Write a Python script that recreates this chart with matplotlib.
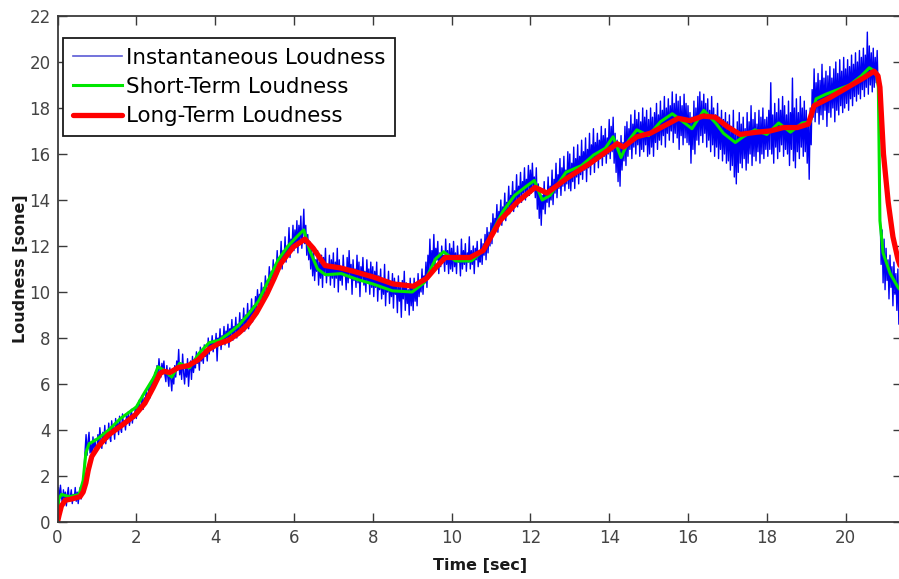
import numpy as np
import matplotlib
matplotlib.use("Agg")
import matplotlib.pyplot as plt

# ---- instantaneous loudness, sampled every 0.025 s (sone), one row block per second ----
inst_dt = 0.025
inst_loudness = [
    # 0 s
    0.4, 1.5, 0.9, 1.6, 1.1, 0.8, 1.4, 1.0, 1.3, 0.7,
    1.2, 1.5, 0.9, 1.1, 1.4, 0.8, 1.2, 1.0, 1.5, 0.9,
    1.3, 0.8, 1.2, 1.5, 1.0, 1.3, 1.6, 2.3, 3.1, 3.8,
    2.9, 3.5, 3.9, 3.0, 3.4, 2.8, 3.7, 3.2, 3.6, 3.1,
    # 1 s
    3.1, 3.8, 3.3, 4.1, 3.6, 3.2, 3.9, 3.5, 4.2, 3.4,
    3.9, 3.6, 4.3, 3.7, 3.5, 4.4, 3.9, 4.1, 3.6, 4.5,
    4.0, 4.3, 3.8, 4.6, 4.1, 3.9, 4.7, 4.2, 4.4, 4.0,
    4.6, 4.3, 4.8, 4.2, 4.5, 4.9, 4.3, 4.7, 4.5, 5.0,
    # 2 s
    4.5, 5.1, 4.7, 5.3, 4.9, 5.0, 5.5, 4.9, 5.4, 5.2,
    5.7, 5.3, 5.6, 5.9, 5.4, 6.1, 5.7, 6.3, 5.9, 6.5,
    6.1, 6.8, 6.4, 7.1, 6.6, 6.3, 6.9, 6.5, 7.0, 6.4,
    6.1, 6.8, 6.3, 5.9, 6.7, 6.2, 5.7, 6.6, 6.0, 6.8,
    # 3 s
    6.3, 7.0, 6.6, 7.5, 6.4, 6.9, 6.2, 7.3, 6.5, 6.0,
    6.8, 6.3, 7.1, 5.9, 6.6, 7.0, 6.2, 7.2, 6.5, 6.9,
    6.7, 7.4, 6.9, 7.2, 6.6, 7.6, 7.0, 7.3, 6.9, 7.7,
    7.2, 7.5, 7.0, 8.0, 7.3, 7.8, 7.5, 8.1, 7.4, 7.9,
    # 4 s
    7.6, 8.2, 7.0, 8.0, 7.7, 8.4, 7.5, 8.1, 7.8, 8.5,
    7.7, 8.3, 8.0, 8.6, 7.6, 8.4, 8.1, 8.8, 7.9, 8.5,
    8.2, 8.9, 8.0, 8.6, 8.3, 9.1, 8.2, 8.8, 8.5, 9.3,
    8.3, 9.0, 8.6, 9.5, 8.4, 9.2, 8.8, 9.7, 8.7, 9.4,
    # 5 s
    9.0, 9.8, 9.2, 10.1, 9.4, 9.9, 9.6, 10.4, 9.5, 10.2,
    9.9, 10.7, 10.0, 10.5, 10.3, 11.1, 10.2, 10.9, 10.6, 11.4,
    10.5, 11.2, 10.9, 11.8, 10.8, 11.5, 11.2, 12.2, 11.0, 11.8,
    11.4, 12.4, 11.3, 12.0, 11.7, 12.8, 11.5, 12.3, 11.9, 12.9,
    # 6 s
    11.8, 12.7, 12.0, 13.1, 11.7, 12.9, 12.2, 13.3, 11.9, 12.6,
    13.6, 12.1, 12.9, 11.6, 12.5, 11.4, 12.2, 11.0, 11.9, 10.7,
    11.7, 10.5, 11.4, 10.9, 11.8, 10.3, 11.3, 10.6, 11.6, 10.2,
    11.5, 10.8, 11.9, 10.4, 11.2, 10.7, 11.6, 10.3, 11.4, 10.6,
    # 7 s
    11.7, 10.2, 11.3, 10.6, 11.9, 10.0, 11.4, 10.5, 11.1, 10.3,
    11.6, 10.7, 11.0, 10.1, 11.5, 10.4, 11.8, 10.6, 11.2, 9.9,
    11.4, 10.5, 11.0, 10.2, 11.6, 10.4, 11.3, 9.8, 11.1, 10.5,
    11.5, 10.3, 10.9, 10.0, 11.4, 10.4, 11.0, 9.9, 11.3, 10.2,
    # 8 s
    11.1, 9.8, 10.9, 10.2, 11.3, 9.6, 10.7, 10.1, 11.0, 9.7,
    10.6, 9.9, 11.2, 9.4, 10.5, 10.0, 10.9, 9.5, 10.4, 9.8,
    10.8, 9.3, 10.6, 9.9, 10.3, 9.1, 10.7, 9.6, 10.2, 8.9,
    10.5, 9.7, 10.9, 9.2, 10.4, 9.5, 10.1, 9.0, 10.6, 9.4,
    # 9 s
    10.3, 9.2, 10.6, 9.6, 10.2, 9.4, 10.8, 9.8, 10.5, 10.0,
    11.0, 9.9, 10.7, 10.4, 11.3, 10.2, 11.6, 10.8, 12.3, 10.9,
    11.8, 11.2, 12.5, 11.0, 11.9, 11.4, 12.2, 10.8, 11.7, 11.1,
    12.0, 11.3, 11.6, 10.9, 12.3, 11.2, 11.8, 10.8, 12.1, 11.0,
    # 10 s
    11.9, 10.9, 12.2, 11.1, 11.7, 10.8, 12.0, 11.3, 11.6, 10.7,
    12.3, 11.0, 11.8, 11.2, 12.1, 10.9, 11.7, 11.3, 12.4, 11.0,
    11.8, 11.2, 12.0, 10.8, 11.9, 11.4, 12.2, 11.1, 11.7, 11.3,
    12.3, 11.2, 12.1, 11.6, 12.5, 11.4, 12.8, 11.7, 12.6, 12.0,
    # 11 s
    13.0, 12.1, 13.4, 12.5, 13.2, 12.8, 13.8, 12.6, 13.5, 13.1,
    14.0, 12.9, 13.7, 13.3, 14.3, 13.1, 13.9, 13.6, 14.6, 13.4,
    14.2, 13.8, 14.8, 13.5, 14.4, 13.9, 15.1, 13.7, 14.6, 14.1,
    15.2, 13.9, 14.8, 14.3, 15.4, 14.0, 14.9, 14.4, 15.5, 14.2,
    # 12 s
    15.3, 14.3, 15.6, 14.5, 15.0, 14.1, 15.4, 13.6, 14.7, 13.2,
    14.5, 12.9, 14.2, 13.6, 14.8, 13.4, 14.4, 13.9, 15.0, 13.7,
    14.6, 14.0, 15.3, 13.8, 14.9, 14.3, 15.6, 14.1, 15.1, 14.5,
    15.8, 14.2, 15.4, 14.6, 15.9, 14.4, 15.3, 14.7, 16.1, 14.5,
    # 13 s
    16.0, 14.4, 15.6, 14.8, 16.3, 14.5, 15.8, 15.0, 16.4, 14.7,
    15.9, 15.1, 16.6, 14.9, 16.1, 15.3, 16.7, 14.8, 16.2, 15.4,
    16.9, 15.1, 16.4, 15.6, 17.1, 15.2, 16.5, 15.7, 16.9, 15.4,
    16.6, 15.8, 17.2, 15.5, 16.8, 15.9, 17.1, 15.6, 16.7, 16.0,
    # 14 s
    17.5, 15.8, 17.2, 16.1, 17.6, 15.6, 16.9, 15.2, 16.6, 14.8,
    16.4, 14.6, 16.8, 15.3, 16.5, 15.7, 17.2, 15.5, 17.4, 15.9,
    17.1, 16.2, 17.7, 15.8, 17.3, 16.3, 17.9, 16.0, 17.5, 16.4,
    17.8, 15.9, 17.4, 16.2, 18.0, 16.1, 17.6, 16.4, 17.9, 15.9,
    # 15 s
    17.5, 16.0, 18.0, 16.3, 17.6, 15.9, 17.8, 16.5, 18.2, 16.2,
    17.7, 16.6, 18.3, 16.4, 17.9, 16.8, 18.5, 16.3, 18.0, 16.9,
    18.4, 16.6, 18.1, 17.0, 18.7, 16.5, 18.2, 16.9, 18.6, 16.7,
    18.3, 16.2, 18.5, 16.8, 18.1, 16.4, 18.6, 16.7, 18.2, 16.5,
    # 16 s
    18.1, 16.4, 17.8, 15.6, 17.6, 16.2, 18.3, 16.0, 18.0, 16.6,
    18.5, 16.4, 18.7, 16.8, 18.3, 16.5, 18.6, 16.9, 18.2, 16.3,
    18.4, 16.6, 17.9, 16.1, 18.5, 16.4, 18.0, 15.9, 17.7, 16.3,
    18.2, 15.8, 17.6, 16.2, 17.9, 15.7, 17.5, 16.0, 17.8, 15.6,
    # 17 s
    17.4, 15.7, 17.7, 15.3, 17.2, 15.5, 17.9, 15.0, 17.0, 14.7,
    17.4, 15.2, 17.8, 15.6, 17.3, 15.4, 17.6, 15.8, 17.1, 15.3,
    17.8, 15.6, 17.4, 16.0, 18.1, 15.5, 17.5, 15.9, 17.8, 15.7,
    17.3, 16.1, 17.9, 15.6, 17.6, 16.0, 18.0, 15.8, 17.5, 16.2,
    # 18 s
    17.6, 15.9, 17.9, 16.2, 19.1, 16.0, 17.7, 15.6, 18.2, 16.3,
    17.8, 15.8, 18.4, 16.1, 17.9, 16.4, 18.5, 15.9, 18.1, 16.2,
    17.7, 16.0, 18.3, 15.5, 17.8, 16.2, 19.3, 15.7, 18.0, 15.4,
    18.4, 16.1, 17.8, 15.8, 18.5, 16.3, 18.0, 15.9, 18.3, 16.1,
    # 19 s
    17.9, 15.6, 17.5, 14.9, 18.0, 16.4, 18.8, 17.6, 19.7, 17.4,
    19.1, 17.8, 19.5, 17.3, 19.2, 17.7, 19.9, 17.5, 19.3, 17.9,
    19.6, 17.2, 19.4, 17.8, 19.8, 17.6, 19.3, 18.0, 19.7, 17.4,
    20.0, 17.9, 19.5, 17.7, 20.1, 18.1, 19.6, 17.8, 20.2, 18.0,
    # 20 s
    19.7, 18.2, 20.1, 17.9, 19.8, 18.4, 20.3, 18.1, 19.9, 18.5,
    20.4, 18.3, 20.0, 18.6, 20.5, 18.4, 20.2, 18.8, 20.6, 18.5,
    20.3, 18.9, 21.3, 18.6, 20.7, 19.0, 20.4, 18.7, 20.6, 18.9,
    20.2, 19.1, 20.5, 18.8, 17.0, 13.5, 11.2, 12.7, 10.4, 12.3,
    # 21 s
    10.1, 11.9, 10.5, 11.4, 9.7, 11.6, 10.2, 11.1, 9.4, 11.3,
    9.9, 10.8, 9.2, 11.0, 8.6, 10.6, 9.5,
]

# ---- short-term loudness ----
short_time = [
    0.0, 0.03, 0.1, 0.3, 0.55, 0.65, 0.72, 0.8, 1.0, 1.3, 1.6, 2.0, 2.2, 2.45, 2.55, 2.7, 2.9,
    3.1, 3.35, 3.6, 3.85, 4.1, 4.35, 4.6, 4.85, 5.1, 5.35, 5.6, 5.85, 6.1, 6.25, 6.4, 6.6,
    6.8, 7.2, 7.6, 8.0, 8.5, 9.0, 9.3, 9.6, 9.8, 10.1, 10.5, 10.8, 11.0, 11.3, 11.6, 11.9,
    12.1, 12.3, 12.5, 12.9, 13.3, 13.6, 13.9, 14.1, 14.3, 14.5, 14.7, 15.0, 15.3, 15.6, 15.8,
    16.1, 16.4, 16.7, 16.9, 17.2, 17.4, 17.7, 18.0, 18.3, 18.6, 18.9, 19.1, 19.25, 19.5, 19.8,
    20.1, 20.4, 20.6, 20.78, 20.83, 20.87, 20.95, 21.13, 21.33, 21.43,
]
short_loudness = [
    0.0, 1.0, 1.2, 1.1, 1.2, 1.8, 3.0, 3.4, 3.6, 4.0, 4.5, 5.0, 5.6, 6.3, 6.75, 6.6, 6.3,
    6.9, 6.7, 7.35, 7.8, 7.9, 8.2, 8.55, 9.05, 9.6, 10.5, 11.4, 12.0, 12.45, 12.7, 11.8, 11.0,
    10.75, 10.8, 10.55, 10.35, 10.05, 10.0, 10.4, 11.45, 11.75, 11.35, 11.35, 11.8, 12.5, 13.5, 14.2, 14.6,
    14.85, 14.0, 14.2, 15.2, 15.5, 15.95, 16.25, 16.75, 15.85, 16.6, 17.05, 16.8, 17.4, 17.75, 17.5,
    17.1, 17.9, 17.35, 16.9, 16.5, 16.75, 17.05, 16.85, 17.35, 16.95, 17.35, 17.4, 18.4, 18.6, 18.8,
    19.0, 19.4, 19.75, 19.55, 18.9, 13.1, 11.7, 10.8, 10.2, 10.0,
]

# ---- long-term loudness ----
long_time = [
    0.0, 0.04, 0.1, 0.2, 0.36, 0.57, 0.65, 0.72, 0.78, 0.87, 1.04, 1.29, 1.63, 1.97, 2.22,
    2.43, 2.6, 2.7, 2.85, 3.07, 3.32, 3.57, 3.83, 4.08, 4.34, 4.59, 4.84, 5.05, 5.31, 5.5,
    5.65, 5.98, 6.28, 6.49, 6.79, 7.17, 7.51, 8.02, 8.52, 9.03, 9.37, 9.62, 9.84, 10.1, 10.47,
    10.8, 11.23, 11.66, 12.12, 12.42, 12.93, 13.52, 14.2, 14.36, 14.7, 15.04, 15.37, 15.75,
    16.05, 16.38, 16.69, 16.99, 17.32, 17.75, 18.08, 18.42, 18.77, 19.05, 19.2, 19.6, 20.1,
    20.45, 20.72, 20.82, 20.87, 20.96, 21.08, 21.2, 21.33, 21.43,
]
long_loudness = [
    0.0, 0.3, 0.7, 0.95, 1.0, 1.1, 1.3, 1.7, 2.25, 2.85, 3.3, 3.78, 4.2, 4.65, 5.17,
    5.85, 6.45, 6.55, 6.5, 6.72, 6.8, 7.05, 7.5, 7.75, 7.9, 8.2, 8.6, 9.1, 9.9, 10.6,
    11.2, 11.95, 12.3, 11.9, 11.15, 11.05, 10.9, 10.65, 10.35, 10.25, 10.6, 11.1, 11.5, 11.5, 11.5,
    11.8, 13.1, 13.9, 14.55, 14.3, 14.95, 15.6, 16.45, 16.3, 16.75, 16.9, 17.2, 17.55,
    17.45, 17.65, 17.6, 17.2, 16.85, 16.95, 17.0, 17.15, 17.15, 17.3, 18.1, 18.45, 18.95,
    19.3, 19.6, 19.4, 18.9, 16.0, 13.9, 12.4, 11.4, 10.9,
]

x_ticks = [0, 2, 4, 6, 8, 10, 12, 14, 16, 18, 20]
y_ticks = [0, 2, 4, 6, 8, 10, 12, 14, 16, 18, 20, 22]

W, H = 899, 579
fig = plt.figure(figsize=(W / 100, H / 100), dpi=100)
ax_left, ax_right, ax_top, ax_bottom = 57.5, 902.0, 16.0, 522.0
ax = fig.add_axes([ax_left / W, 1 - ax_bottom / H,
                   (ax_right - ax_left) / W, (ax_bottom - ax_top) / H])

t_inst = np.arange(len(inst_loudness)) * inst_dt
ax.plot(t_inst, inst_loudness, color="#0000f5", lw=1.0, label="Instantaneous Loudness")
ax.plot(short_time, short_loudness, color="#00e600", lw=2.2, label="Short-Term Loudness")
ax.plot(long_time, long_loudness, color="#ff0000", lw=3.8, label="Long-Term Loudness",
        solid_capstyle="round", solid_joinstyle="round")

ax.set_xlim(0, 21.43)
ax.set_ylim(0, 22)
ax.set_xticks(x_ticks)
ax.set_yticks(y_ticks)

spine_col = "#3a3a3a"
for s in ax.spines.values():
    s.set_color(spine_col)
    s.set_linewidth(1.3)
ax.tick_params(direction="in", length=6.5, width=1.0, color=spine_col,
               top=True, right=True, labelsize=12, labelcolor="#444444", pad=5)

ax.set_xlabel("Time [sec]", fontsize=11.5, fontweight="bold", color="#1a1a1a", labelpad=8)
ax.set_ylabel("Loudness [sone]", fontsize=11.5, fontweight="bold", color="#1a1a1a", labelpad=1)

handles, labels = ax.get_legend_handles_labels()
leg = ax.legend(handles, labels, loc="upper left",
                bbox_to_anchor=((63 - ax_left) / (ax_right - ax_left),
                                1 - (38 - ax_top) / (ax_bottom - ax_top)),
                borderaxespad=0, fontsize=15.4, frameon=True, fancybox=False,
                framealpha=1, edgecolor="#1a1a1a", handlelength=2.3,
                handletextpad=0.2, labelspacing=0.43, borderpad=0.45)
leg.get_frame().set_linewidth(1.3)
leg.legend_handles[0].set_color("#5a5ad6")
leg.legend_handles[0].set_linewidth(1.2)

fig.savefig("out.png", dpi=100)
